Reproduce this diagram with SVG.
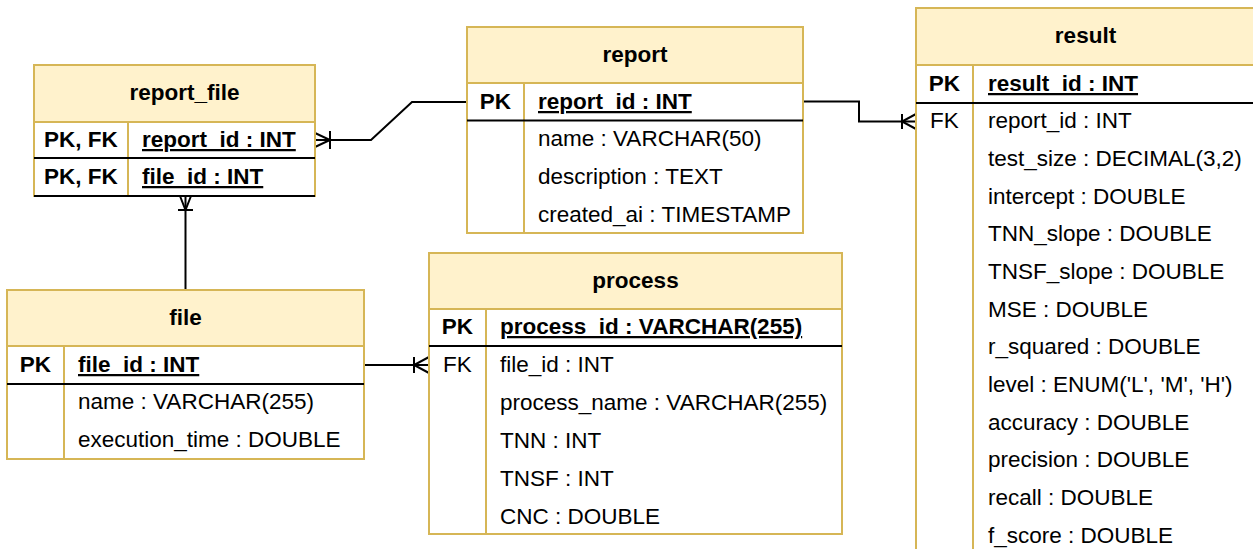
<svg xmlns="http://www.w3.org/2000/svg" width="1253" height="549" viewBox="0 0 1253 549">
<style>
.box{fill:#ffffff;stroke:#d6b656;stroke-width:2}
.hdr{fill:#fff2cc;stroke:#d6b656;stroke-width:2}
.col{stroke:#d6b656;stroke-width:2;fill:none}
.pkl{stroke:#000000;stroke-width:2;fill:none}
text{font-family:"Liberation Sans",Arial,sans-serif;font-size:22.5px;fill:#000000}
.t{font-weight:bold;text-anchor:middle}
.k{font-weight:bold;text-anchor:middle}
.kf{text-anchor:middle}
.pk{font-weight:bold;text-decoration:underline}
.cn{stroke:#000000;stroke-width:2;fill:none}
</style>
<rect width="1253" height="549" fill="#ffffff"/>
<g id="connectors">
  <path class="cn" d="M315,140 L371,140 L412,102 L467,102"/>
  <path class="cn" d="M315,133 L330,140 L315,147 M330,131 V149"/>
  <path class="cn" d="M803,101.5 H859 V121.5 H916"/>
  <path class="cn" d="M916,114 L902,121.5 L916,129 M902,114 V129"/>
  <path class="cn" d="M185.5,196 V290"/>
  <path class="cn" d="M180,196 L185.5,210 L191,196 M178,210 H193"/>
  <path class="cn" d="M364,365 H429"/>
  <path class="cn" d="M429,357 L414,365 L429,373 M414,357 V373"/>
</g>
<g id="report_file">
  <rect class="box" x="34" y="65" width="281" height="131"/>
  <rect class="hdr" x="34" y="65" width="281" height="57"/>
  <line class="col" x1="128" y1="122" x2="128" y2="196"/>
  <line class="pkl" x1="34" y1="158" x2="315" y2="158"/>
  <line class="pkl" x1="34" y1="196" x2="315" y2="196"/>
  <text class="t" x="184.5" y="100">report_file</text>
  <text class="k" x="81" y="147">PK, FK</text>
  <text class="pk" x="142" y="147">report_id : INT</text>
  <text class="k" x="81" y="184">PK, FK</text>
  <text class="pk" x="142" y="184">file_id : INT</text>
</g>
<g id="report">
  <rect class="box" x="467" y="27" width="336" height="206"/>
  <rect class="hdr" x="467" y="27" width="336" height="56"/>
  <line class="col" x1="524" y1="83" x2="524" y2="233"/>
  <line class="pkl" x1="467" y1="120.5" x2="803" y2="120.5"/>
  <text class="t" x="635" y="62">report</text>
  <text class="k" x="495.5" y="109">PK</text>
  <text class="pk" x="538" y="109">report_id : INT</text>
  <text x="538" y="146">name : VARCHAR(50)</text>
  <text x="538" y="184">description : TEXT</text>
  <text x="538" y="222">created_ai : TIMESTAMP</text>
</g>
<g id="result">
  <rect class="box" x="916" y="8" width="340" height="560"/>
  <rect class="hdr" x="916" y="8" width="340" height="57"/>
  <line class="col" x1="973" y1="65" x2="973" y2="568"/>
  <line class="pkl" x1="916" y1="103" x2="1256" y2="103"/>
  <text class="t" x="1085.5" y="43">result</text>
  <text class="k" x="944.5" y="91">PK</text>
  <text class="pk" x="988" y="91">result_id : INT</text>
  <text class="kf" x="944.5" y="128">FK</text>
  <text x="988" y="128">report_id : INT</text>
  <text x="988" y="166">test_size : DECIMAL(3,2)</text>
  <text x="988" y="204">intercept : DOUBLE</text>
  <text x="988" y="241">TNN_slope : DOUBLE</text>
  <text x="988" y="279">TNSF_slope : DOUBLE</text>
  <text x="988" y="317">MSE : DOUBLE</text>
  <text x="988" y="354">r_squared : DOUBLE</text>
  <text x="988" y="392">level : ENUM('L', 'M', 'H')</text>
  <text x="988" y="430">accuracy : DOUBLE</text>
  <text x="988" y="467">precision : DOUBLE</text>
  <text x="988" y="505">recall : DOUBLE</text>
  <text x="988" y="543">f_score : DOUBLE</text>
</g>
<g id="file">
  <rect class="box" x="7" y="290" width="357" height="169"/>
  <rect class="hdr" x="7" y="290" width="357" height="56"/>
  <line class="col" x1="64" y1="346" x2="64" y2="459"/>
  <line class="pkl" x1="7" y1="384" x2="364" y2="384"/>
  <text class="t" x="185.5" y="325">file</text>
  <text class="k" x="35.5" y="372">PK</text>
  <text class="pk" x="78" y="372">file_id : INT</text>
  <text x="78" y="409">name : VARCHAR(255)</text>
  <text x="78" y="447">execution_time : DOUBLE</text>
</g>
<g id="process">
  <rect class="box" x="429" y="253" width="413" height="281"/>
  <rect class="hdr" x="429" y="253" width="413" height="56"/>
  <line class="col" x1="486" y1="309" x2="486" y2="534"/>
  <line class="pkl" x1="429" y1="346" x2="842" y2="346"/>
  <text class="t" x="635.5" y="288">process</text>
  <text class="k" x="457.5" y="334">PK</text>
  <text class="pk" x="500" y="334">process_id : VARCHAR(255)</text>
  <text class="kf" x="457.5" y="372">FK</text>
  <text x="500" y="372">file_id : INT</text>
  <text x="500" y="410">process_name : VARCHAR(255)</text>
  <text x="500" y="448">TNN : INT</text>
  <text x="500" y="486">TNSF : INT</text>
  <text x="500" y="524">CNC : DOUBLE</text>
</g>
</svg>
